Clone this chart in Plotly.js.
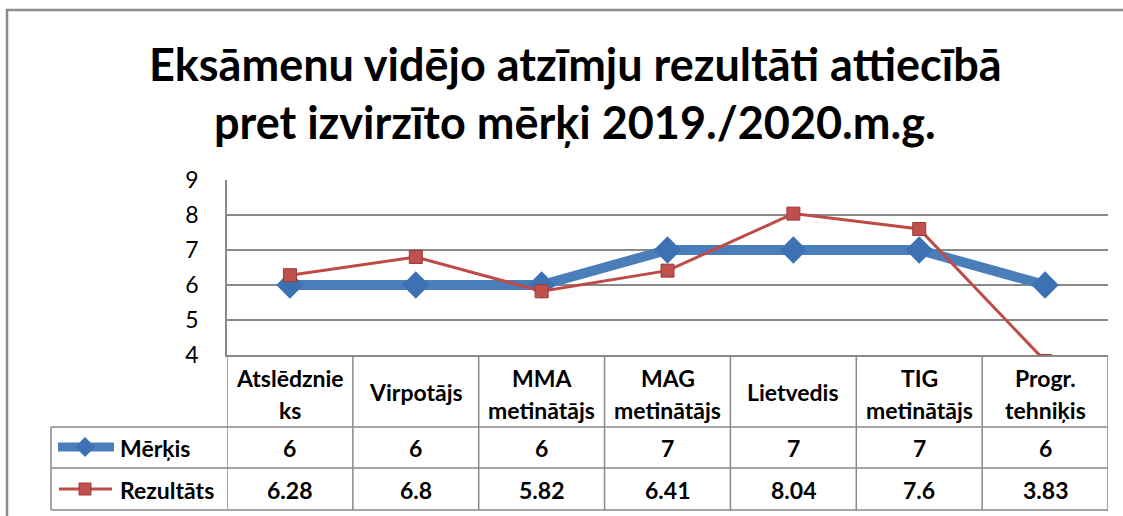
<!DOCTYPE html>
<html>
<head>
<meta charset="utf-8">
<script src="https://cdn.plot.ly/plotly-3.0.1.min.js"></script>
<style>
  body { margin: 0; background: #fff; }
  #chart { width: 1123px; height: 516px; }
</style>
</head>
<body>
<div id="chart"></div>
<script>
// chart data
var titleLines = ["Eksāmenu vidējo atzīmju rezultāti attiecībā", "pret izvirzīto mērķi 2019./2020.m.g."];
var categories = ["Atslēdznieks", "Virpotājs", "MMA metinātājs", "MAG metinātājs", "Lietvedis", "TIG metinātājs", "Progr. tehniķis"];
var headerLabels = ["Atslēdznie<br>ks", "Virpotājs", "MMA<br>metinātājs", "MAG<br>metinātājs", "Lietvedis", "TIG<br>metinātājs", "Progr.<br>tehniķis"];
var seriesNames = ["Mērķis", "Rezultāts"];
var merkis = [6, 6, 6, 7, 7, 7, 6];
var rezultats = [6.28, 6.8, 5.82, 6.41, 8.04, 7.6, 3.83];
var yTicks = [4, 5, 6, 7, 8, 9];

var FONT = "Lato, 'Open Sans', sans-serif";
var GRID = "#898989";
var BLUE = "#4A7EBB";
var RED = "#BE4B48";

// plot area in pixels: x 227..1108, y 180..355
function X(px) { return (px - 227) / 881; }
function Y(py) { return (355 - py) / 175; }

var traces = [
  {
    x: categories, y: merkis, name: seriesNames[0],
    mode: "lines+markers",
    line: {color: BLUE, width: 10},
    marker: {symbol: "diamond", size: 21, color: "#3C72B4"}
  },
  {
    x: categories, y: rezultats, name: seriesNames[1],
    mode: "lines+markers",
    line: {color: RED, width: 3},
    marker: {symbol: "square", size: 13, color: "#C0504D", line: {color: "#9E3A37", width: 1}}
  }
];

var shapes = [];
var annotations = [];
function vline(x, y0, y1, xref) {
  shapes.push({type: "line", xref: xref, yref: "paper", x0: x, x1: x, y0: Y(y0), y1: Y(y1),
    line: {color: GRID, width: 1.5}});
}
function label(xref, x, py, txt, size, xanchor) {
  annotations.push({xref: xref, yref: "paper", x: x, y: Y(py), xanchor: xanchor || "center", yanchor: "middle",
    text: "<b>" + txt + "</b>", showarrow: false, font: {family: FONT, size: size, color: "#000"}});
}

// data table lines
for (var i = 0; i <= categories.length; i++) vline(i - 0.5, 355, 510, "x");
vline(X(51), 427, 510, "paper");
[427, 468, 510].forEach(function (py) {
  shapes.push({type: "line", xref: "paper", yref: "paper", x0: X(51), x1: 1, y0: Y(py), y1: Y(py),
    line: {color: GRID, width: 1.5}});
});

// chart outer border
shapes.push({type: "path", xref: "paper", yref: "paper",
  path: "M" + X(7) + "," + Y(530) + " L" + X(7) + "," + Y(10) + " L" + X(1130) + "," + Y(10),
  line: {color: "#8c8c8c", width: 2.5}});

// legend keys
shapes.push({type: "line", xref: "paper", yref: "paper", x0: X(58), x1: X(114), y0: Y(447), y1: Y(447),
  line: {color: BLUE, width: 9}});
shapes.push({type: "path", xref: "paper", yref: "paper", fillcolor: "#3C72B4", line: {width: 0},
  path: "M" + X(85) + "," + Y(437) + " L" + X(95) + "," + Y(447) + " L" + X(85) + "," + Y(457) + " L" + X(75) + "," + Y(447) + " Z"});
shapes.push({type: "line", xref: "paper", yref: "paper", x0: X(59), x1: X(112), y0: Y(489), y1: Y(489),
  line: {color: RED, width: 3}});
shapes.push({type: "rect", xref: "paper", yref: "paper", x0: X(79), x1: X(91), y0: Y(483), y1: Y(495),
  fillcolor: "#C0504D", line: {color: "#9E3A37", width: 1}});

// title
label("paper", X(575), 64, titleLines[0], 45);
label("paper", X(575), 122, titleLines[1], 45);

// header row
headerLabels.forEach(function (lab, k) {
  var lines = lab.split("<br>");
  lines.forEach(function (ln, j) {
    var cy = lines.length === 1 ? 392 : (j === 0 ? 378 : 410);
    label("x", categories[k], cy, ln, 23);
  });
});

// value rows
[merkis, rezultats].forEach(function (vals, r) {
  var cy = r === 0 ? 448 : 490;
  vals.forEach(function (v, k) {
    label("x", categories[k], cy, v, 23);
  });
  label("paper", X(118), cy, seriesNames[r], 23, "left");
});

var layout = {
  width: 1123, height: 516,
  margin: {l: 227, r: 15, t: 180, b: 161},
  paper_bgcolor: "#fff", plot_bgcolor: "#fff",
  showlegend: false,
  xaxis: {
    type: "category", categoryarray: categories, range: [-0.5, 6.5],
    showticklabels: false, showgrid: false, zeroline: false, ticks: "",
    showline: true, linecolor: GRID, linewidth: 1.5
  },
  yaxis: {
    range: [4, 9], tickvals: yTicks, showgrid: true, gridcolor: GRID, gridwidth: 1.5,
    zeroline: false, showline: true, linecolor: GRID, linewidth: 1.5, ticks: "",
    ticklabelstandoff: 22, tickfont: {family: FONT, size: 23, color: "#000"}
  },
  shapes: shapes,
  annotations: annotations
};

Plotly.newPlot("chart", traces, layout, {displayModeBar: false});
</script>
</body>
</html>
